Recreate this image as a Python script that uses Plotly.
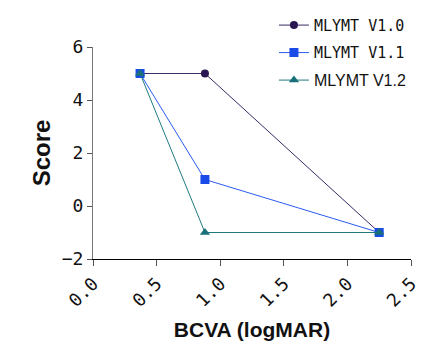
import plotly.graph_objects as go

x_vals = [0.37, 0.88, 2.25]
v10 = [5, 5, -1]
v11 = [5, 1, -1]
v12 = [5, -1, -1]
names = ["MLYMT V1.0", "MLYMT V1.1",
         "<span style='font-family:Liberation Sans;font-size:16px'>MLYMT V1.2</span>"]
x_ticks = [0, 0.5, 1.0, 1.5, 2.0, 2.5]
x_ticklabels = ["0.0", "0.5", "1.0", "1.5", "2.0", "2.5"]
y_ticks = [-2, 0, 2, 4, 6]
y_ticklabels = ["−2", "0", "2", "4", "6"]

fig = go.Figure()
fig.add_trace(go.Scatter(x=x_vals, y=v10, name=names[0], mode="lines+markers",
                         legendgroup="a",
                         line=dict(color="#3a2a66", width=1),
                         marker=dict(symbol="circle", size=8, color="#2a1650")))
fig.add_trace(go.Scatter(x=x_vals, y=v11, name=names[1], mode="lines+markers",
                         legendgroup="b",
                         line=dict(color="#2a5cf0", width=1),
                         marker=dict(symbol="square", size=9, color="#1a4ae8")))
fig.add_trace(go.Scatter(x=x_vals, y=v12, name=names[2], mode="lines+markers",
                         legendgroup="c",
                         line=dict(color="#1f7a80", width=1),
                         marker=dict(symbol="triangle-up", size=9, color="#1a7078")))

fig.update_layout(
    width=440, height=349,
    margin=dict(l=93, r=29, t=47, b=90, autoexpand=False),
    plot_bgcolor="white", paper_bgcolor="white",
    showlegend=True,
    legend=dict(x=0.569, y=1.18, xanchor="left", yanchor="top",
                font=dict(family="DejaVu Sans Mono", size=15, color="#111"),
                bgcolor="rgba(0,0,0,0)", tracegroupgap=5, itemwidth=30),
    xaxis=dict(range=[0, 2.5], tickvals=x_ticks, ticktext=x_ticklabels,
               tickangle=-45, ticks="outside", ticklen=6, tickcolor="#555",
               showline=True, linecolor="black", linewidth=1, showgrid=False,
               zeroline=False,
               tickfont=dict(family="DejaVu Sans Mono", size=18, color="#111"),
               title=dict(text="<b>BCVA (logMAR)</b>", standoff=12,
                          font=dict(family="Liberation Sans", size=21, color="#111"))),
    yaxis=dict(range=[-2, 6], tickvals=y_ticks, ticktext=y_ticklabels,
               ticks="outside", ticklen=5, tickcolor="#555",
               showline=True, linecolor="#777", linewidth=1, showgrid=False,
               zeroline=False,
               tickfont=dict(family="DejaVu Sans Mono", size=18, color="#111"),
               title=dict(text="<b>Score</b>", standoff=4,
                          font=dict(family="Liberation Sans", size=24, color="#111"))),
)

fig.write_html("out.html")
